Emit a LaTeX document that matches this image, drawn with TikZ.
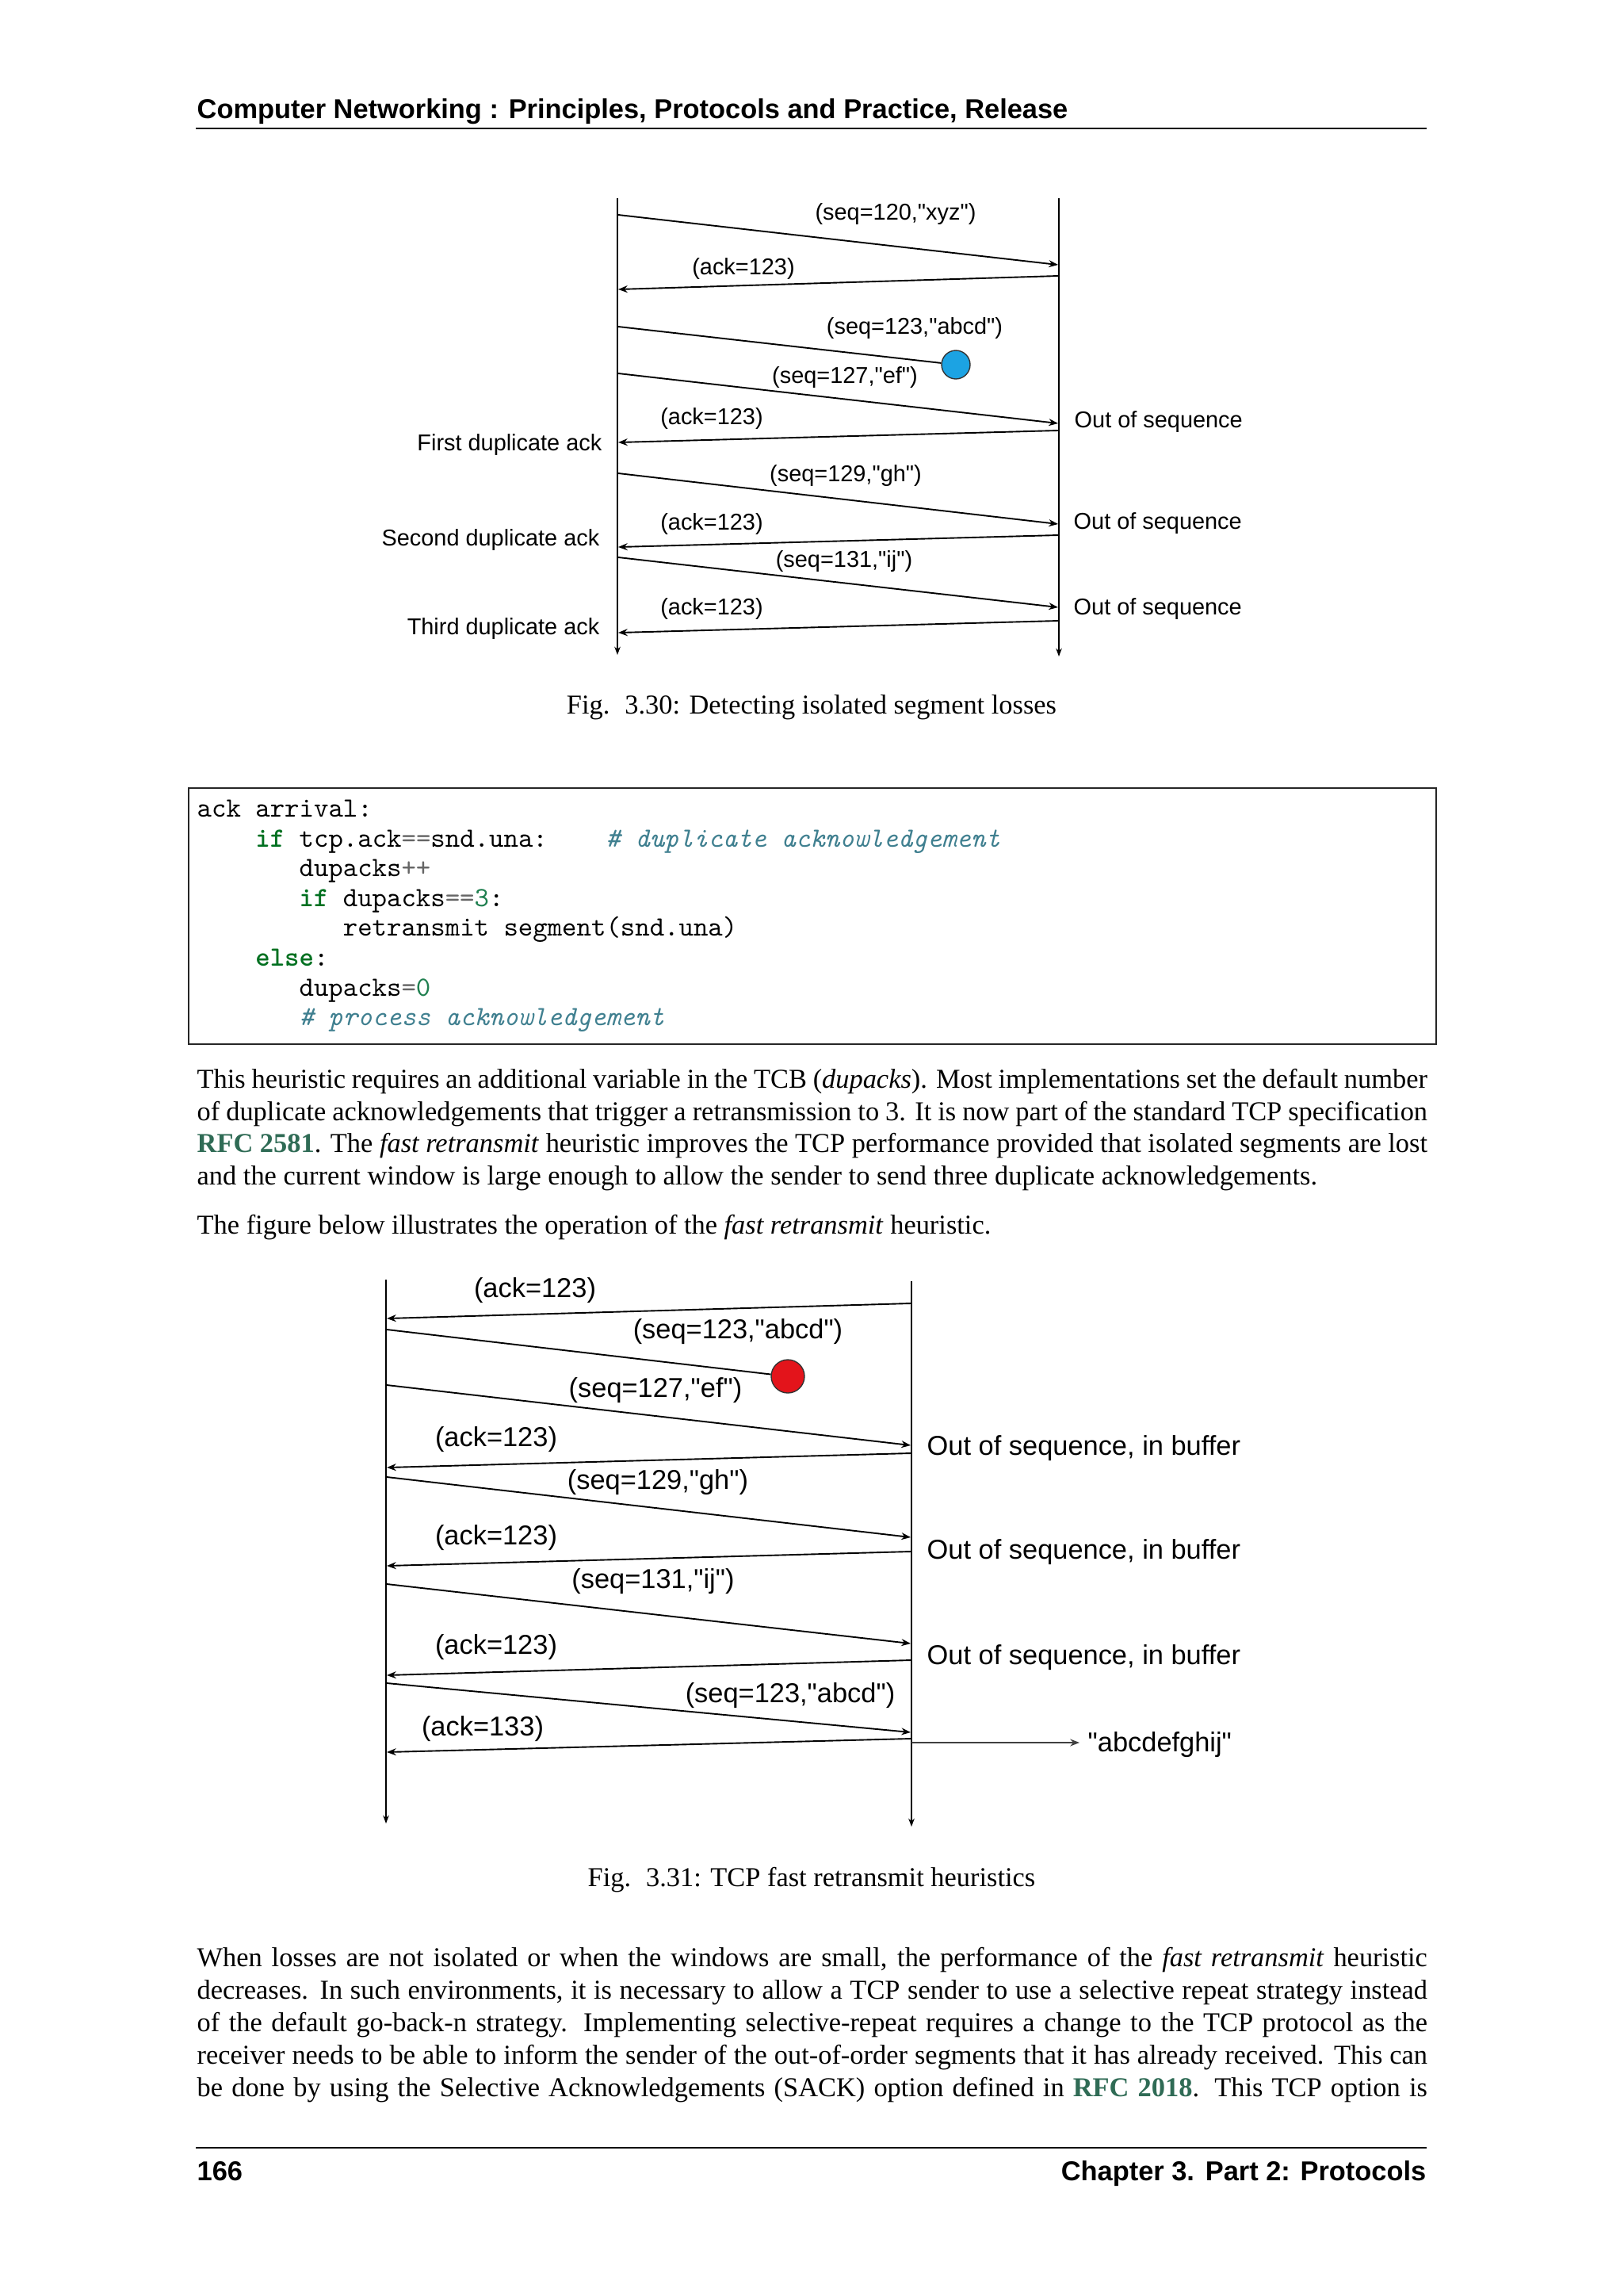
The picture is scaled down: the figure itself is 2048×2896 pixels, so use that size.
\documentclass[tikz,border=0pt]{standalone}
\usepackage{fontspec}
\setmainfont{Liberation Serif}
\setsansfont{Liberation Sans}
\usetikzlibrary{arrows.meta}
\definecolor{kwcol}{HTML}{007020}
\definecolor{cmtcol}{HTML}{408090}
\definecolor{opcol}{HTML}{666666}
\definecolor{numcol}{HTML}{208050}
\definecolor{rfccol}{HTML}{2F6B55}
\definecolor{lossblue}{HTML}{1CA3E3}
\definecolor{lossred}{HTML}{E3141B}
\newcommand\kwd[1]{\textcolor{kwcol}{\bfseries #1}}
\newcommand\opr[1]{\textcolor{opcol}{#1}}
\newcommand\numb[1]{\textcolor{numcol}{#1}}
\newcommand\cmt[1]{\textcolor{cmtcol}{\itshape #1}}
\newcommand\rfc[1]{\textcolor{rfccol}{\bfseries #1}}
\newcommand\qd{\XeTeXglyph\XeTeXglyphindex "quotedbl"\relax}
\tikzset{
  seqarr/.style={line width=0.55pt, -{Stealth[length=3.4pt,width=2.6pt]}},
  seqline/.style={line width=0.55pt},
  life/.style={line width=0.4pt, -{Stealth[length=3pt,width=2.2pt]}},
  lblA/.style={font=\sffamily\fontsize{8.4}{10}\selectfont, inner sep=0pt},
  lblB/.style={font=\sffamily\fontsize{10}{12}\selectfont, inner sep=0pt},
  bodytxt/.style={anchor=base west, inner sep=0pt, font=\rmfamily\fontsize{10}{12}\selectfont},
  codetxt/.style={anchor=base west, inner sep=0pt, font=\ttfamily\fontsize{10.2}{12}\selectfont},
  headtxt/.style={inner sep=0pt, font=\sffamily\bfseries\fontsize{10}{12}\selectfont},
  captxt/.style={anchor=base, inner sep=0pt, font=\rmfamily\fontsize{10}{12}\selectfont},
  lossdot/.style={circle, draw=black!80, line width=0.4pt, inner sep=0pt},
}
\newcommand\jline[3]{\node[bodytxt] (#1) at (248,#2) {\makebox[451.2pt][s]{#3}};}
\begin{document}
\begin{tikzpicture}[x=0.29067pt,y=-0.29067pt]
\useasboundingbox (0,0) rectangle (2048,2896);
\fill[white] (0,0) rectangle (2048,2896);

% ---------- header ----------
\node[headtxt, anchor=base west] (hdr) at (248,149) {Computer Networking : Principles, Protocols and Practice, Release};
\coordinate (hrA) at (247,162);
\coordinate (hrB) at (1800,162);
\draw[line width=0.4pt] (hrA) -- (hrB);

% ---------- figure 3.30 ----------
\coordinate (L1top) at (779,250);
\coordinate (L1bot) at (779,826);
\coordinate (R1top) at (1336,250);
\coordinate (R1bot) at (1336,828);
\draw[life] (L1top) -- (L1bot);
\draw[life] (R1top) -- (R1bot);

\coordinate (a1s) at (780,271);  \coordinate (a1e) at (1335,334);
\coordinate (a2s) at (1335,348); \coordinate (a2e) at (780,365);
\coordinate (a3s) at (780,412);
\node[lossdot, fill=lossblue, minimum size=36*0.29067pt] (loss1) at (1206,460) {};
\coordinate (a4s) at (780,471);  \coordinate (a4e) at (1335,534);
\coordinate (a5s) at (1335,543); \coordinate (a5e) at (780,558);
\coordinate (a6s) at (780,597);  \coordinate (a6e) at (1335,661);
\coordinate (a7s) at (1335,675); \coordinate (a7e) at (780,690);
\coordinate (a8s) at (780,703);  \coordinate (a8e) at (1335,766);
\coordinate (a9s) at (1335,783); \coordinate (a9e) at (780,798);
\draw[seqarr] (a1s) -- (a1e);
\draw[seqarr] (a2s) -- (a2e);
\draw[seqline] (a3s) -- (loss1);
\draw[seqarr] (a4s) -- (a4e);
\draw[seqarr] (a5s) -- (a5e);
\draw[seqarr] (a6s) -- (a6e);
\draw[seqarr] (a7s) -- (a7e);
\draw[seqarr] (a8s) -- (a8e);
\draw[seqarr] (a9s) -- (a9e);

\node[lblA] (t1) at (1130,270) {(seq=120,\qd xyz\qd)};
\node[lblA] (t2) at (938,339) {(ack=123)};
\node[lblA] (t3) at (1154,414) {(seq=123,\qd abcd\qd)};
\node[lblA] (t4) at (1066,476) {(seq=127,\qd ef\qd)};
\node[lblA] (t5) at (898,528) {(ack=123)};
\node[lblA, anchor=east] (t6) at (760,561) {First duplicate ack};
\node[lblA, anchor=west] (t7) at (1355,532) {Out of sequence};
\node[lblA] (t8) at (1067,600) {(seq=129,\qd gh\qd)};
\node[lblA] (t9) at (898,661) {(ack=123)};
\node[lblA, anchor=west] (t10) at (1354,660) {Out of sequence};
\node[lblA, anchor=east] (t11) at (757,681) {Second duplicate ack};
\node[lblA] (t12) at (1065,708) {(seq=131,\qd ij\qd)};
\node[lblA] (t13) at (898,768) {(ack=123)};
\node[lblA, anchor=west] (t14) at (1354,768) {Out of sequence};
\node[lblA, anchor=east] (t15) at (757,793) {Third duplicate ack};

\node[captxt] (cap1) at (1024,900) {Fig.\hspace{5.5pt}3.30: Detecting isolated segment losses};

% ---------- code block ----------
\node[draw=black!85, line width=0.45pt, inner sep=0pt, minimum width=1574*0.29067pt, minimum height=323*0.29067pt, anchor=north west] (codebox) at (237,993) {};
\node[codetxt] (c1) at (248,1030) {ack arrival:};
\node[codetxt] (c2) at (321.7,1068) {\kwd{if} tcp.ack\opr{==}snd.una:};
\node[codetxt] (c2b) at (763.8,1068) {\cmt{\# duplicate acknowledgement}};
\node[codetxt] (c3) at (376.9,1105) {dupacks\opr{++}};
\node[codetxt] (c4) at (376.9,1143) {\kwd{if} dupacks\opr{==}\numb{3}:};
\node[codetxt] (c5) at (432.2,1180) {retransmit segment(snd.una)};
\node[codetxt] (c6) at (321.7,1218) {\kwd{else}:};
\node[codetxt] (c7) at (376.9,1256) {dupacks\opr{=}\numb{0}};
\node[codetxt] (c8) at (376.9,1293) {\cmt{\# process acknowledgement}};

% ---------- paragraph 1 ----------
\jline{p1a}{1372.5}{This heuristic requires an additional variable in the TCB (\textit{dupacks}). Most implementations set the default number}
\jline{p1b}{1413.2}{of duplicate acknowledgements that trigger a retransmission to 3. It is now part of the standard TCP specification}
\jline{p1c}{1453.9}{\rfc{RFC 2581}. The \textit{fast retransmit} heuristic improves the TCP performance provided that isolated segments are lost}
\node[bodytxt] (p1d) at (248,1494.6) {and the current window is large enough to allow the sender to send three duplicate acknowledgements.};
\node[bodytxt] (p2) at (248,1556) {The figure below illustrates the operation of the \textit{fast retransmit} heuristic.};

% ---------- figure 3.31 ----------
\coordinate (L2top) at (487,1614);
\coordinate (L2bot) at (487,2300);
\coordinate (R2top) at (1150,1616);
\coordinate (R2bot) at (1150,2304);
\draw[life] (L2top) -- (L2bot);
\draw[life] (R2top) -- (R2bot);

\coordinate (b1s) at (1149,1644);  \coordinate (b1e) at (488,1663);
\coordinate (b2s) at (488,1677);
\node[lossdot, fill=lossred, minimum size=42*0.29067pt] (loss2) at (994,1736) {};
\coordinate (b3s) at (488,1747);   \coordinate (b3e) at (1149,1823);
\coordinate (b4s) at (1149,1833);  \coordinate (b4e) at (488,1851);
\coordinate (b5s) at (488,1863);   \coordinate (b5e) at (1149,1939);
\coordinate (b6s) at (1149,1957);  \coordinate (b6e) at (488,1975);
\coordinate (b7s) at (488,1998);   \coordinate (b7e) at (1149,2073);
\coordinate (b8s) at (1149,2094);  \coordinate (b8e) at (488,2113);
\coordinate (b9s) at (488,2123);   \coordinate (b9e) at (1149,2185);
\coordinate (b10s) at (1149,2193); \coordinate (b10e) at (488,2210);
\coordinate (b11s) at (1150,2198); \coordinate (b11e) at (1362,2198);
\draw[seqarr] (b1s) -- (b1e);
\draw[seqline] (b2s) -- (loss2);
\draw[seqarr] (b3s) -- (b3e);
\draw[seqarr] (b4s) -- (b4e);
\draw[seqarr] (b5s) -- (b5e);
\draw[seqarr] (b6s) -- (b6e);
\draw[seqarr] (b7s) -- (b7e);
\draw[seqarr] (b8s) -- (b8e);
\draw[seqarr] (b9s) -- (b9e);
\draw[seqarr] (b10s) -- (b10e);
\draw[seqarr, line width=0.75pt, black!75] (b11s) -- (b11e);

\node[lblB] (u1) at (675,1628) {(ack=123)};
\node[lblB] (u2) at (931,1680) {(seq=123,\qd abcd\qd)};
\node[lblB] (u3) at (827,1754) {(seq=127,\qd ef\qd)};
\node[lblB] (u4) at (626,1816) {(ack=123)};
\node[lblB, anchor=west] (u5) at (1169,1827) {Out of sequence, in buffer};
\node[lblB] (u6) at (830,1870) {(seq=129,\qd gh\qd)};
\node[lblB] (u7) at (626,1940) {(ack=123)};
\node[lblB, anchor=west] (u8) at (1169,1958) {Out of sequence, in buffer};
\node[lblB] (u9) at (824,1995) {(seq=131,\qd ij\qd)};
\node[lblB] (u10) at (626,2078) {(ack=123)};
\node[lblB, anchor=west] (u11) at (1169,2091) {Out of sequence, in buffer};
\node[lblB] (u12) at (997,2139) {(seq=123,\qd abcd\qd)};
\node[lblB] (u13) at (609,2181) {(ack=133)};
\node[lblB, anchor=west] (u14) at (1372,2201) {\qd abcdefghij\qd};

\node[captxt] (cap2) at (1024,2379) {Fig.\hspace{5.5pt}3.31: TCP fast retransmit heuristics};

% ---------- paragraph 3 ----------
\jline{p3a}{2480}{When losses are not isolated or when the windows are small, the performance of the \textit{fast retransmit} heuristic}
\jline{p3b}{2521}{decreases. In such environments, it is necessary to allow a TCP sender to use a selective repeat strategy instead}
\jline{p3c}{2562}{of the default go-back-n strategy. Implementing selective-repeat requires a change to the TCP protocol as the}
\jline{p3d}{2603}{receiver needs to be able to inform the sender of the out-of-order segments that it has already received. This can}
\jline{p3e}{2644}{be done by using the Selective Acknowledgements (SACK) option defined in \rfc{RFC 2018}. This TCP option is}

% ---------- footer ----------
\coordinate (frA) at (247,2709);
\coordinate (frB) at (1800,2709);
\draw[line width=0.4pt] (frA) -- (frB);
\node[headtxt, anchor=base west] (pgno) at (248,2750) {166};
\node[headtxt, anchor=base east] (chap) at (1800,2750) {Chapter 3.\hspace{4pt}Part 2: Protocols};
\end{tikzpicture}
\end{document}
